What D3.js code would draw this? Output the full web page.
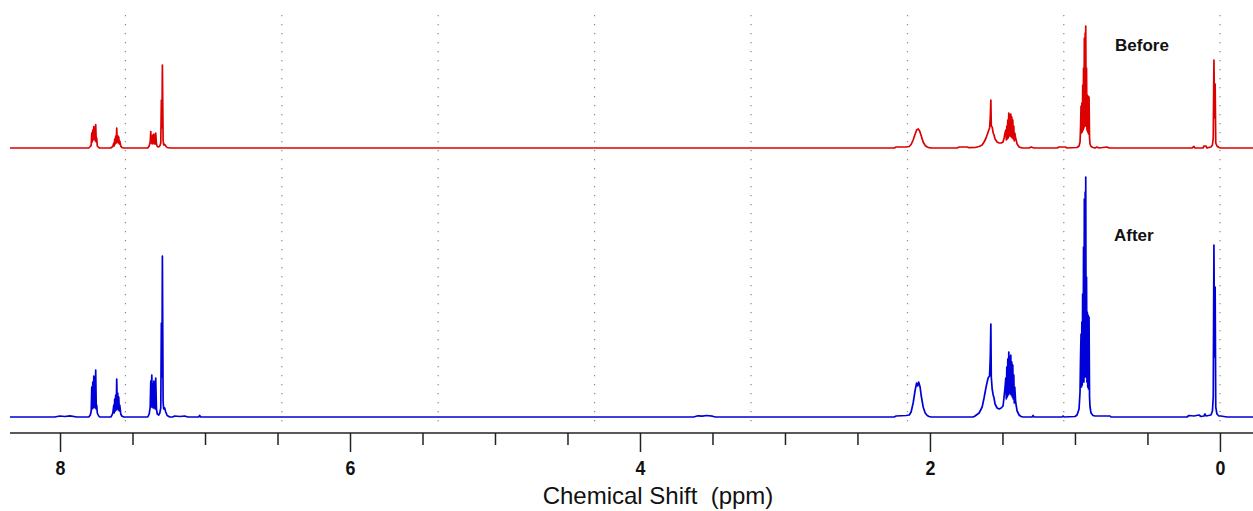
<!DOCTYPE html>
<html>
<head>
<meta charset="utf-8">
<script src="https://cdn.jsdelivr.net/npm/d3@7"></script>
<style>
  html, body { margin: 0; padding: 0; background: #fff; }
  svg { display: block; }
  text { font-family: "Liberation Sans", Arial, sans-serif; }
</style>
</head>
<body>
<svg id="chart" width="1253" height="511"></svg>
<script>
// ---- Data (chemical shift in ppm, intensity in arbitrary units) ----
const spectrumLabels = ["Before", "After"];
const spectrumColors = ["#dc0000", "#0000d8"];

const beforeSpectrum = [
  [8.345, 0],
  [7.802, 0], [7.791, 1.5], [7.785, 3], [7.781, 15], [7.778, 6], [7.774, 18], [7.771, 8],
  [7.767, 21.5], [7.764, 9], [7.760, 20], [7.757, 7], [7.754, 23.5], [7.750, 6], [7.747, 10],
  [7.743, 2], [7.733, 0.5], [7.726, 0],
  [7.650, 0], [7.636, 1.5], [7.629, 5], [7.626, 2], [7.623, 9], [7.619, 4], [7.616, 12],
  [7.612, 5], [7.609, 20], [7.605, 6], [7.602, 12.5], [7.598, 5], [7.595, 11], [7.591, 4],
  [7.588, 7], [7.581, 2], [7.574, 0.5], [7.561, 0],
  [7.395, 0], [7.385, 2], [7.378, 6], [7.374, 16.5], [7.371, 5], [7.367, 12], [7.364, 4],
  [7.360, 13], [7.357, 5], [7.353, 14], [7.350, 4], [7.346, 10], [7.343, 4], [7.340, 15],
  [7.335, 4], [7.329, 1.5], [7.319, 1], [7.312, 2], [7.305, 5], [7.301, 48], [7.297, 20],
  [7.294, 83], [7.289, 8], [7.285, 3], [7.278, 3.5], [7.271, 2], [7.261, 0.5], [7.243, 0],
  [2.247, 0], [2.233, 1], [2.164, 1], [2.143, 1.5], [2.130, 3.5], [2.116, 8], [2.102, 14],
  [2.092, 18], [2.081, 19], [2.071, 17], [2.061, 12.5], [2.047, 6], [2.033, 2.5], [2.019, 1],
  [2.006, 0.3], [1.992, 0],
  [1.813, 0], [1.799, 1], [1.744, 1], [1.730, 0.3],
  [1.689, 0.5], [1.661, 1.5], [1.640, 3], [1.627, 6], [1.613, 10], [1.599, 16], [1.589, 20],
  [1.584, 30], [1.580, 48], [1.577, 22], [1.571, 21], [1.564, 15], [1.558, 13], [1.551, 9],
  [1.537, 6], [1.523, 5], [1.509, 5], [1.496, 6], [1.489, 10], [1.482, 15], [1.477, 18],
  [1.4735, 8], [1.470, 22], [1.4666, 9], [1.4632, 28], [1.4597, 10], [1.4563, 35], [1.4528, 12],
  [1.4494, 33], [1.446, 12], [1.4425, 34], [1.439, 11], [1.4356, 31], [1.4322, 10], [1.4287, 28],
  [1.4253, 9], [1.4218, 22], [1.4184, 7], [1.415, 15], [1.409, 10], [1.399, 4], [1.385, 1],
  [1.372, 0.3], [1.358, 0],
  [1.316, 0], [1.303, 1], [1.282, 0], [1.123, 0], [1.110, 1], [1.068, 1], [1.054, 0],
  [0.9856, 0.5], [0.9718, 2], [0.9649, 6], [0.9614, 20], [0.958, 42], [0.9552, 15], [0.9525, 45],
  [0.9497, 16], [0.9463, 63], [0.9435, 18], [0.9408, 80], [0.938, 20], [0.9353, 110], [0.9325, 22],
  [0.9297, 115], [0.9277, 25], [0.9256, 122], [0.9228, 22], [0.9201, 80], [0.9173, 18],
  [0.9146, 53], [0.9118, 16], [0.909, 52], [0.9063, 14], [0.9029, 51], [0.8994, 10], [0.896, 4],
  [0.8891, 1.5], [0.8753, 0.5], [0.861, 0],
  [0.848, 1], [0.834, 0], [0.779, 1], [0.765, 0],
  [0.193, 0], [0.179, 1.5], [0.172, 0], [0.117, 0], [0.110, 2], [0.0965, 2], [0.0896, 0],
  [0.062, 1], [0.0517, 3], [0.0462, 10], [0.0414, 88], [0.0372, 30], [0.0331, 64], [0.0289, 5],
  [0.0207, 2], [0.0069, 0.5], [-0.0069, 0],
  [-0.228, 0]
];

const afterSpectrum = [
  [8.345, 0],
  [8.036, 0], [8.002, 1], [7.967, 0.5], [7.932, 1.2], [7.884, 0],
  [7.802, 0], [7.791, 2], [7.785, 6], [7.781, 30], [7.778, 8], [7.774, 35], [7.771, 9],
  [7.767, 41], [7.764, 10], [7.760, 40], [7.757, 9], [7.754, 47], [7.750, 8], [7.747, 12],
  [7.743, 4], [7.733, 1], [7.726, 0],
  [7.650, 0], [7.643, 1.5], [7.636, 4], [7.629, 12], [7.626, 4], [7.623, 18], [7.619, 6],
  [7.616, 22], [7.612, 7], [7.609, 38], [7.605, 8], [7.602, 24], [7.598, 7], [7.595, 20],
  [7.591, 6], [7.588, 12], [7.581, 3], [7.574, 1], [7.561, 0],
  [7.395, 0], [7.385, 3], [7.378, 10], [7.374, 36], [7.371, 10], [7.367, 42], [7.364, 10],
  [7.360, 33], [7.357, 9], [7.353, 36], [7.350, 9], [7.346, 35], [7.343, 8], [7.340, 39],
  [7.335, 8], [7.329, 3], [7.319, 2], [7.312, 4], [7.305, 9], [7.301, 94], [7.297, 40],
  [7.294, 161], [7.289, 15], [7.285, 8], [7.278, 9], [7.271, 5], [7.261, 1.5], [7.243, 0],
  [7.223, 0], [7.209, 1], [7.174, 0.5], [7.140, 1], [7.119, 0], [7.044, 0], [7.037, 1.5], [7.030, 0],
  [3.63, 0], [3.60, 1.2], [3.57, 0.8], [3.54, 1.5], [3.50, 0.8], [3.48, 0],
  [2.247, 0], [2.233, 1], [2.164, 1.5], [2.143, 2], [2.130, 5], [2.116, 14], [2.102, 27],
  [2.092, 34], [2.085, 31], [2.078, 35], [2.068, 30], [2.061, 22], [2.047, 10], [2.033, 4],
  [2.019, 1.5], [2.006, 0.5], [1.992, 0],
  [1.702, 0], [1.689, 1], [1.661, 4], [1.640, 10], [1.627, 19], [1.613, 30], [1.599, 39],
  [1.589, 41], [1.584, 60], [1.580, 93], [1.577, 40], [1.571, 28], [1.564, 22], [1.558, 19],
  [1.551, 13], [1.537, 9], [1.523, 8], [1.509, 9], [1.496, 11], [1.489, 20], [1.482, 30],
  [1.477, 39],
  [1.4735, 18], [1.470, 50], [1.4666, 20], [1.4632, 58], [1.4597, 22], [1.4563, 65], [1.4528, 24],
  [1.4494, 60], [1.446, 23], [1.4425, 62], [1.439, 22], [1.4356, 55], [1.4322, 20], [1.4287, 52],
  [1.4253, 18], [1.4218, 42], [1.4184, 14], [1.415, 30], [1.409, 15], [1.399, 6], [1.385, 2],
  [1.372, 0.5], [1.358, 0],
  [1.296, 0], [1.289, 1.5], [1.282, 0], [1.089, 0], [1.082, 1], [1.075, 0],
  [0.9993, 0.5], [0.9856, 2], [0.9718, 8], [0.9649, 25], [0.9614, 60], [0.958, 83], [0.9552, 30],
  [0.9525, 95], [0.9497, 32], [0.947, 123], [0.9442, 35], [0.9408, 170], [0.938, 35],
  [0.9353, 218], [0.9325, 40], [0.9297, 225], [0.9277, 45], [0.9256, 240], [0.9228, 40],
  [0.9201, 140], [0.9173, 35], [0.9146, 105], [0.9118, 30], [0.909, 102], [0.9063, 28],
  [0.9029, 100], [0.8994, 20], [0.896, 10], [0.8891, 4], [0.8753, 1.5], [0.861, 1],
  [0.758, 1], [0.751, 0],
  [0.227, 0], [0.214, 1.5], [0.179, 1], [0.145, 2], [0.131, 0.5], [0.110, 1], [0.103, 3],
  [0.0965, 1], [0.062, 2], [0.0517, 6], [0.0462, 20], [0.0414, 172], [0.0372, 60],
  [0.0331, 130], [0.0289, 10], [0.0207, 3], [0.0069, 1], [-0.0069, 1], [-0.0276, 0.5],
  [-0.048, 0],
  [-0.228, 0]
];

const gridPositions = [7.549, 6.470, 5.392, 4.313, 3.234, 2.155, 1.077, 0.0];
const majorTicks = [8, 6, 4, 2, 0];
const majorTickLabels = ["8", "6", "4", "2", "0"];
const minorTicks = [7.5, 7, 6.5, 5.5, 5, 4.5, 3.5, 3, 2.5, 1.5, 1, 0.5];
const axisTitle = "Chemical Shift  (ppm)";

// ---- Drawing ----
const svg = d3.select("#chart");
const W = 1253, H = 511;
svg.append("rect").attr("width", W).attr("height", H).attr("fill", "#fff");

const x = d3.scaleLinear().domain([8.345, -0.228]).range([10, 1253]);
const yBefore = d3.scaleLinear().domain([0, 130]).range([148, 18]);
const yAfter = d3.scaleLinear().domain([0, 260]).range([417, 157]);

// grid
svg.append("g").selectAll("line").data(gridPositions).join("line")
  .attr("x1", d => x(d)).attr("x2", d => x(d))
  .attr("y1", 15).attr("y2", 428)
  .attr("stroke", "#8a8a8a").attr("stroke-width", 1.2)
  .attr("stroke-dasharray", "1.3 7.7");

// spectra
const series = [
  { data: beforeSpectrum, y: yBefore, color: spectrumColors[0] },
  { data: afterSpectrum, y: yAfter, color: spectrumColors[1] }
];
series.forEach(s => {
  const line = d3.line().x(d => x(d[0])).y(d => s.y(d[1]));
  svg.append("path").datum(s.data)
    .attr("d", line)
    .attr("fill", "none")
    .attr("stroke", s.color)
    .attr("stroke-width", 1.7)
    .attr("stroke-linejoin", "round");
});

// labels
svg.append("text").attr("x", 1115).attr("y", 51)
  .attr("font-weight", "bold").attr("font-size", 17).attr("fill", "#111")
  .text(spectrumLabels[0]);
svg.append("text").attr("x", 1114).attr("y", 241)
  .attr("font-weight", "bold").attr("font-size", 17).attr("fill", "#111")
  .text(spectrumLabels[1]);

// axis
const axisY = 433;
const axisG = svg.append("g").attr("transform", `translate(0,${axisY})`);
const axisMajor = d3.axisBottom(x).tickValues(majorTicks)
  .tickFormat((d, i) => majorTickLabels[i]).tickSize(19).tickPadding(8);
axisG.call(axisMajor);
axisG.select(".domain").remove();
axisG.selectAll(".tick line").attr("stroke", "#222").attr("stroke-width", 1.5);
axisG.selectAll(".tick text")
  .attr("font-family", "'Liberation Sans', Arial, sans-serif")
  .attr("font-weight", "bold").attr("font-size", 21).attr("fill", "#111")
  .attr("transform", "scale(0.85,1)");

const axisMinor = d3.axisBottom(x).tickValues(minorTicks).tickFormat("").tickSize(12);
const minorG = svg.append("g").attr("transform", `translate(0,${axisY})`).call(axisMinor);
minorG.select(".domain").remove();
minorG.selectAll(".tick line").attr("stroke", "#222").attr("stroke-width", 1.5);

svg.append("line").attr("x1", 10).attr("x2", 1253).attr("y1", axisY).attr("y2", axisY)
  .attr("stroke", "#222").attr("stroke-width", 1.6);

svg.append("text").attr("x", 658).attr("y", 504).attr("text-anchor", "middle")
  .attr("font-size", 24).attr("fill", "#111")
  .style("white-space", "pre")
  .text(axisTitle);
</script>
</body>
</html>
